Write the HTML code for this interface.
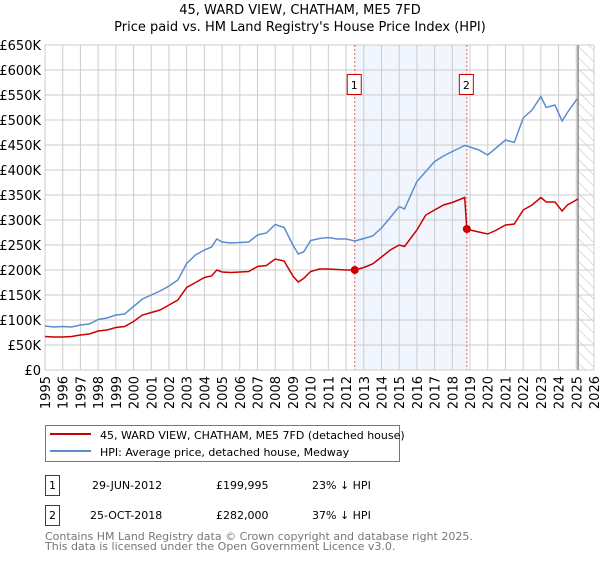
<!DOCTYPE html>
<html><head><meta charset="utf-8"><style>
body{margin:0;background:#fff;font-family:"Liberation Sans","DejaVu Sans",sans-serif;}
svg text{font-family:"DejaVu Sans","Liberation Sans",sans-serif;}
</style></head><body>
<svg id="c" width="600" height="560" xmlns="http://www.w3.org/2000/svg">
<defs><pattern id="hatch" width="8" height="8" patternUnits="userSpaceOnUse" patternTransform="rotate(-45)"><line x1="0" y1="0" x2="0" y2="8" stroke="#bbb" stroke-width="1"/></pattern></defs>
<text x="300" y="14" text-anchor="middle" font-size="13" fill="#000">45, WARD VIEW, CHATHAM, ME5 7FD</text>
<text x="300" y="31" text-anchor="middle" font-size="13" fill="#000">Price paid vs. HM Land Registry's House Price Index (HPI)</text>
<g id="plot"></g>
<g>
<rect x="45.5" y="425.5" width="354" height="36" fill="#fff" stroke="#777"/>
<line x1="50" y1="434" x2="91" y2="434" stroke="#cc0000" stroke-width="2"/>
<text x="100" y="439" font-size="11">45, WARD VIEW, CHATHAM, ME5 7FD (detached house)</text>
<line x1="50" y1="451" x2="91" y2="451" stroke="#5b8ccf" stroke-width="2"/>
<text x="100" y="456" font-size="11">HPI: Average price, detached house, Medway</text>
</g>
<g font-size="11">
<rect x="45.5" y="475.5" width="14" height="20" fill="#fff" stroke="#cc0000"/><text x="52.5" y="489" text-anchor="middle">1</text>
<text x="92" y="489">29-JUN-2012</text><text x="216" y="489">£199,995</text><text x="312" y="489">23% ↓ HPI</text>
<rect x="45.5" y="505.5" width="14" height="20" fill="#fff" stroke="#cc0000"/><text x="52.5" y="519" text-anchor="middle">2</text>
<text x="90" y="519">25-OCT-2018</text><text x="216" y="519">£282,000</text><text x="312" y="519">37% ↓ HPI</text>
</g>
<text x="45" y="540" font-size="11" fill="#777">Contains HM Land Registry data © Crown copyright and database right 2025.</text>
<text x="45" y="550" font-size="11" fill="#777">This data is licensed under the Open Government Licence v3.0.</text>
</svg>
<script>
const hpiYears=[1995,1995.5,1996,1996.5,1997,1997.5,1998,1998.5,1999,1999.5,2000,2000.5,2001,2001.5,2002,2002.5,2003,2003.5,2004,2004.4,2004.7,2005,2005.5,2006,2006.5,2007,2007.5,2008,2008.5,2009,2009.3,2009.6,2010,2010.5,2011,2011.5,2012,2012.5,2013,2013.5,2014,2014.5,2015,2015.3,2016,2016.5,2017,2017.5,2018,2018.7,2019,2019.5,2020,2020.5,2021,2021.5,2022,2022.5,2023,2023.3,2023.8,2024.2,2024.5,2025,2025.1];
const hpiValues=[88,86,87,86,90,92,101,104,110,112,127,142,150,158,168,180,213,230,240,246,262,256,254,255,256,270,274,291,285,250,232,236,259,263,265,262,262,258,263,268,284,305,327,322,377,397,417,428,437,449,446,440,430,445,460,455,504,520,547,525,530,498,515,540,542];
const priceYears=[1995,1995.5,1996,1996.5,1997,1997.5,1998,1998.5,1999,1999.5,2000,2000.5,2001,2001.5,2002,2002.5,2003,2003.5,2004,2004.4,2004.7,2005,2005.5,2006,2006.5,2007,2007.5,2008,2008.5,2009,2009.3,2009.6,2010,2010.5,2011,2011.5,2012,2012.49,2013,2013.5,2014,2014.5,2015,2015.3,2016,2016.5,2017,2017.5,2018,2018.7,2018.82,2019,2019.5,2020,2020.5,2021,2021.5,2022,2022.5,2023,2023.3,2023.8,2024.2,2024.5,2025,2025.1];
const priceValues=[67,66,66,67,70,72,78,80,85,87,97,110,115,120,130,140,165,175,185,188,200,196,195,196,197,207,209,222,218,188,176,183,197,202,202,201,200,200,205,212,226,240,250,247,280,310,320,330,335,345,282,280,276,272,280,290,292,320,330,345,336,336,318,330,340,342];
const sales=[{n:'1',y:2012.49,v:199.995},{n:'2',y:2018.82,v:282}];
const yTicks=[0,50,100,150,200,250,300,350,400,450,500,550,600,650];
const yTickLabels=['£0','£50K','£100K','£150K','£200K','£250K','£300K','£350K','£400K','£450K','£500K','£550K','£600K','£650K'];
const xTicks=[1995,1996,1997,1998,1999,2000,2001,2002,2003,2004,2005,2006,2007,2008,2009,2010,2011,2012,2013,2014,2015,2016,2017,2018,2019,2020,2021,2022,2023,2024,2025,2026];

const L=45,R=594,T=45,B=370,ns='http://www.w3.org/2000/svg';
const xs=y=>L+(y-1995)/31*(R-L);
const ys=v=>B-v/650*(B-T);
const g=document.getElementById('plot');
function mk(t,a,p){const e=document.createElementNS(ns,t);for(const k in a)e.setAttribute(k,a[k]);(p||g).appendChild(e);return e;}
// shaded band & hatch
let e=mk('rect',{x:xs(sales[0].y),y:T,width:xs(sales[1].y)-xs(sales[0].y),height:B-T,fill:'#eef3fc',opacity:0.8});


e=mk('rect',{x:xs(2025.1),y:T,width:R-xs(2025.1),height:B-T,fill:'url(#hatch)'});


// grid
yTicks.forEach((v,i)=>{
 e=mk('line',{x1:L,x2:R,y1:ys(v),y2:ys(v),stroke:'#ccc'});
 
 
 e=mk('text',{x:L-4,y:ys(v)+5,'text-anchor':'end','font-size':13});
 e.textContent=yTickLabels[i];
 
 
});
xTicks.forEach(y=>{
 e=mk('line',{x1:xs(y),x2:xs(y),y1:T,y2:B,stroke:'#ccc'});
 
 
 e=mk('text',{x:0,y:0,'text-anchor':'end','font-size':13,transform:`translate(${xs(y)+5},${B+6}) rotate(-90)`});
 e.textContent=y;
 
 
});
e=mk('line',{x1:xs(2025.1),x2:xs(2025.1),y1:T,y2:B,stroke:'#888','stroke-width':1.5});


sales.forEach(s=>{
 e=mk('line',{x1:xs(s.y),x2:xs(s.y),y1:T,y2:B,stroke:'#e06060','stroke-dasharray':'2,2'});
 
 
 e=mk('rect',{x:xs(s.y)-7.5,y:74.5,width:14,height:20,fill:'#fff',stroke:'#cc0000'});
 
 
 e=mk('text',{x:xs(s.y)-0.5,y:89,'text-anchor':'middle','font-size':11});
 e.textContent=s.n;
 
 
});
const pts=(X,V)=>X.map((x,i)=>xs(x).toFixed(1)+','+ys(V[i]).toFixed(1)).join(' ');
e=mk('polyline',{points:pts(hpiYears,hpiValues),fill:'none',stroke:'#5b8ccf','stroke-width':1.5});


e=mk('polyline',{points:pts(priceYears,priceValues),fill:'none',stroke:'#cc0000','stroke-width':1.5});


sales.forEach(s=>{
 e=mk('circle',{cx:xs(s.y),cy:ys(s.v),r:4,fill:'#cc0000'});
 
 
});
</script>
</body></html>
